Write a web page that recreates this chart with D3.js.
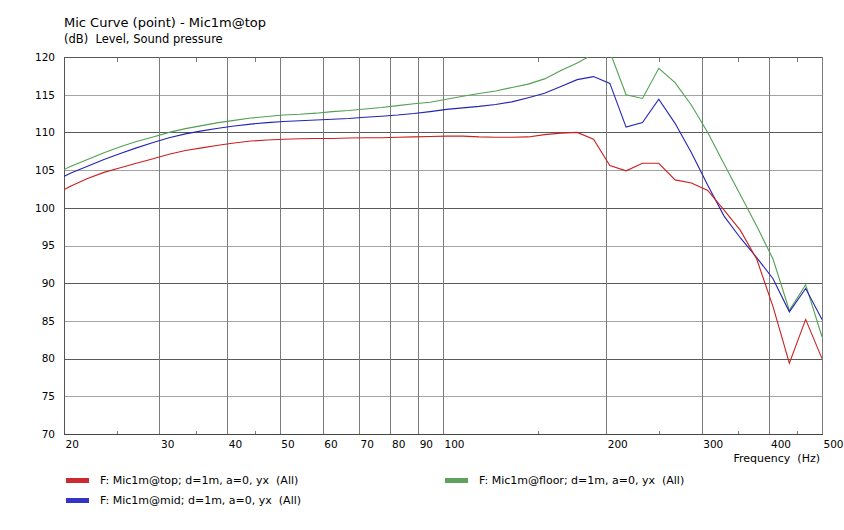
<!DOCTYPE html>
<html>
<head>
<meta charset="utf-8">
<script src="https://cdn.jsdelivr.net/npm/d3@7/dist/d3.min.js"></script>
<style>
  html, body { margin: 0; padding: 0; background: #fff; }
  svg { display: block; }
  text { font-family: "DejaVu Sans", sans-serif; fill: #000; white-space: pre; }
</style>
</head>
<body>
<svg id="chart" width="844" height="530"></svg>
<script>
// ---- data ----
const titleText = "Mic Curve (point) - Mic1m@top";
const subtitleText = "(dB)  Level, Sound pressure";
const xLabelText = "Frequency  (Hz)";

const freq = [19.2, 20.6, 22.1, 23.7, 25.4, 27.2, 29.2, 31.25, 33.5, 35.9, 38.5, 41.2, 44.2, 47.4, 50.8, 54.4, 58.3, 62.5, 67.0, 71.8, 77.0, 82.5, 88.4, 94.7, 101.5, 108.8, 116.6, 125, 134, 143.6, 153.9, 165, 176.8, 189.5, 203.1, 217.6, 233.3, 250, 267.9, 287.2, 307.8, 329.9, 353.6, 378.9, 406.1, 435.3, 466.5, 500];

const topValues = [101.7, 102.9, 103.9, 104.7, 105.3, 105.9, 106.5, 107.1, 107.6, 107.95, 108.3, 108.6, 108.85, 109.0, 109.1, 109.15, 109.2, 109.2, 109.25, 109.3, 109.3, 109.35, 109.4, 109.45, 109.5, 109.5, 109.4, 109.35, 109.35, 109.4, 109.7, 109.9, 110.0, 109.1, 105.6, 104.9, 105.9, 105.9, 103.7, 103.3, 102.3, 99.7, 97.0, 93.2, 86.9, 79.4, 85.2, 80.0];

const midValues = [103.6, 104.6, 105.5, 106.4, 107.2, 107.95, 108.65, 109.3, 109.8, 110.2, 110.55, 110.85, 111.1, 111.3, 111.45, 111.55, 111.65, 111.75, 111.85, 112.0, 112.15, 112.3, 112.5, 112.75, 113.05, 113.25, 113.45, 113.7, 114.05, 114.6, 115.2, 116.1, 117.0, 117.4, 116.5, 110.7, 111.3, 114.4, 111.2, 107.3, 103.0, 98.9, 96.0, 93.4, 90.6, 86.2, 89.3, 85.2];

const floorValues = [104.5, 105.5, 106.4, 107.3, 108.1, 108.8, 109.4, 110.0, 110.5, 110.9, 111.3, 111.6, 111.9, 112.1, 112.3, 112.4, 112.55, 112.75, 112.9, 113.1, 113.3, 113.55, 113.8, 114.0, 114.4, 114.8, 115.15, 115.5, 115.95, 116.4, 117.1, 118.2, 119.2, 120.4, 120.7, 115.0, 114.5, 118.5, 116.6, 113.6, 110.0, 105.8, 101.7, 97.6, 93.2, 86.4, 89.8, 82.9];

const seriesNames = ["F: Mic1m@top; d=1m, a=0, yx  (All)", "F: Mic1m@mid; d=1m, a=0, yx  (All)", "F: Mic1m@floor; d=1m, a=0, yx  (All)"];
const seriesColors = ["#cc2020", "#2424b4", "#52a052"];
const legendColors = ["#cc2a30", "#3434c4", "#5ea05e"];

const xTickValues = [20, 30, 40, 50, 60, 70, 80, 90, 100, 200, 300, 400, 500];
const xMinorTicks = [25, 35, 45, 150, 250, 350, 450];
const yTickValues = [70, 75, 80, 85, 90, 95, 100, 105, 110, 115, 120];

// ---- layout ----
const svg = d3.select("#chart");
const L = 64, R = 822, T = 57, B = 434;
const x = d3.scaleLog().domain([20, 500]).range([L, R]);
const y = d3.scaleLinear().domain([70, 120]).range([B, T]);
const px = v => Math.round(v) + 0.5;
const FONT = '"DejaVu Sans", sans-serif';

svg.append("rect").attr("width", 844).attr("height", 530).attr("fill", "#fff");

// title
svg.append("text").attr("x", 64).attr("y", 27).style("font-size", "13px").text(titleText);
svg.append("text").attr("x", 64).attr("y", 43).style("font-size", "11.5px").text(subtitleText);

const grid = svg.append("g").attr("shape-rendering", "crispEdges");

// horizontal grid
grid.selectAll("line.h").data(yTickValues).enter().append("line")
  .attr("x1", L).attr("x2", R)
  .attr("y1", d => px(y(d))).attr("y2", d => px(y(d)))
  .attr("stroke", d => (d % 10 === 0) ? "#5a5a5a" : "#a4a4a4")
  .attr("stroke-width", 1);

// vertical grid
grid.selectAll("line.v").data(xTickValues).enter().append("line")
  .attr("x1", d => px(x(d))).attr("x2", d => px(x(d)))
  .attr("y1", T).attr("y2", B)
  .attr("stroke", "#7c7c7c").attr("stroke-width", 1);

// minor ticks top & bottom
grid.selectAll("line.mt").data(xMinorTicks).enter().append("line")
  .attr("x1", d => px(x(d))).attr("x2", d => px(x(d)))
  .attr("y1", px(y(120))).attr("y2", px(y(120)) + 4)
  .attr("stroke", "#7c7c7c");
grid.selectAll("line.mb").data(xMinorTicks).enter().append("line")
  .attr("x1", d => px(x(d))).attr("x2", d => px(x(d)))
  .attr("y1", px(y(70))).attr("y2", px(y(70)) - 4)
  .attr("stroke", "#7c7c7c");

// border left / bottom darker
grid.append("line").attr("x1", px(L)).attr("x2", px(L)).attr("y1", T).attr("y2", B + 1).attr("stroke", "#555");
grid.append("line").attr("x1", L).attr("x2", R + 1).attr("y1", px(B)).attr("y2", px(B)).attr("stroke", "#444");

// axes (labels)
const xAxis = d3.axisBottom(x).tickValues(xTickValues).tickFormat(d3.format("d")).tickSize(0).tickPadding(0);
const gx = svg.append("g").attr("transform", `translate(0,${B})`).call(xAxis);
gx.select(".domain").remove();
gx.selectAll("text").attr("text-anchor", "start").attr("dx", 1).attr("dy", 0).attr("y", 14)
  .style("font-size", "10.5px").style("font-family", FONT).attr("fill", "#000");

const yAxis = d3.axisLeft(y).tickValues(yTickValues).tickFormat(d3.format("d")).tickSize(0).tickPadding(9);
const gy = svg.append("g").attr("transform", `translate(${L},0)`).call(yAxis);
gy.select(".domain").remove();
gy.selectAll("text").style("font-size", "10.5px").style("font-family", FONT).attr("fill", "#000");

svg.append("text").attr("x", 820).attr("y", 462).attr("text-anchor", "end").style("font-size", "11px").text(xLabelText);

// curves
svg.append("clipPath").attr("id", "plotclip").append("rect")
  .attr("x", L).attr("y", T).attr("width", R - L + 1).attr("height", B - T);
const curves = svg.append("g").attr("clip-path", "url(#plotclip)");
const line = d3.line().x(d => x(d[0])).y(d => y(d[1]));
const allSeries = [topValues, midValues, floorValues];
[2, 1, 0].forEach(i => {
  curves.append("path")
    .datum(freq.map((f, k) => [f, allSeries[i][k]]))
    .attr("d", line)
    .attr("fill", "none")
    .attr("stroke", seriesColors[i])
    .attr("stroke-width", 1.1);
});

// legend
const legendPos = [[66, 480], [66, 500], [445, 480]];
legendPos.forEach((p, i) => {
  svg.append("rect").attr("x", p[0]).attr("y", p[1] - 2).attr("width", 23).attr("height", 5).attr("fill", legendColors[i]);
  svg.append("text").attr("x", p[0] + 34).attr("y", p[1] + 4).style("font-size", "11px").text(seriesNames[i]);
});
</script>
</body>
</html>
